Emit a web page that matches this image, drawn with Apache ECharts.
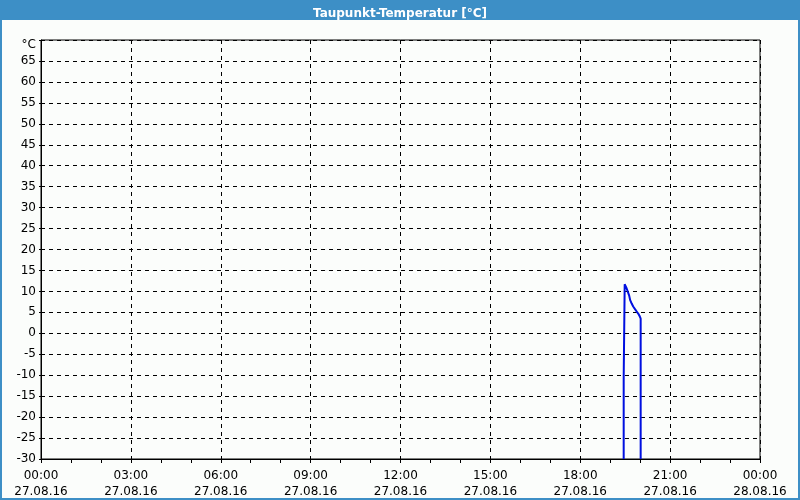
<!DOCTYPE html>
<html>
<head>
<meta charset="utf-8">
<script src="https://cdn.jsdelivr.net/npm/echarts@6/dist/echarts.min.js"></script>
<style>
html,body{margin:0;padding:0;background:#fbfdfb;}
#c{width:800px;height:500px;}
</style>
</head>
<body>
<div id="c"></div>
<script>
var chartTitle = 'Taupunkt-Temperatur [°C]';
var times = ['19:27','19:27','19:29','19:31','19:33','19:35','19:38','19:40','19:43','19:46','19:50','19:53','19:56','19:59','20:01','20:01'];
var dewPoint = [-30, -10.5, 11.7, 11.4, 10.7, 10.0, 9.0, 7.9, 7.1, 6.4, 5.7, 5.2, 4.7, 4.1, 3.5, -30];
var xTickTimes = ['00:00','03:00','06:00','09:00','12:00','15:00','18:00','21:00','00:00'];
var xTickDates = ['27.08.16','27.08.16','27.08.16','27.08.16','27.08.16','27.08.16','27.08.16','27.08.16','28.08.16'];
var yUnit = '°C';

function toMin(s){var p=s.split(':');return (+p[0])*60+(+p[1]);}
var seriesData = times.map(function(t,i){return [toMin(t), dewPoint[i]];});

var chart = echarts.init(document.getElementById('c'), null, {renderer:'canvas'});
var font = 'Tahoma, "DejaVu Sans", sans-serif';
chart.setOption({
  animation:false,
  backgroundColor:'#fbfdfb',
  title:{
    text:chartTitle, left:'center', top:3,
    textStyle:{color:'#ffffff', fontSize:12, fontWeight:'bold', fontFamily:font}
  },
  graphic:[
    {type:'rect', shape:{x:0,y:0,width:800,height:20}, style:{fill:'#3d8fc6'}, z:-1},
    {type:'rect', shape:{x:1,y:1,width:798,height:498}, style:{fill:'none', stroke:'#3d8fc6', lineWidth:2}, z:-1}
  ],
  grid:{left:41, right:40, top:40, bottom:40, show:true, borderColor:'#000', borderWidth:1, backgroundColor:'transparent'},
  xAxis:{
    type:'value', min:0, max:1440, interval:180,
    axisLine:{show:true, onZero:false, lineStyle:{color:'#000', width:1}},
    axisTick:{show:true, length:4, inside:false, lineStyle:{color:'#000'}},
    minorTick:{show:true, splitNumber:3, length:4, lineStyle:{color:'#000'}},
    splitLine:{show:true, lineStyle:{color:'#000', type:[4,4], width:1}},
    axisLabel:{
      color:'#000', fontSize:12, fontFamily:font, lineHeight:16, margin:9,
      formatter:function(v){var i=Math.round(v/180);return xTickTimes[i]+'\n'+xTickDates[i];}
    }
  },
  yAxis:{
    type:'value', min:-30, max:70, interval:5,
    axisLine:{show:true, onZero:false, lineStyle:{color:'#000', width:1}},
    axisTick:{show:true, length:2, lineStyle:{color:'#000'}},
    splitLine:{show:true, lineStyle:{color:'#000', type:[4,4], width:1}},
    axisLabel:{
      color:'#000', fontSize:12, fontFamily:font, margin:5,
      formatter:function(v){return v===70?'{u|'+yUnit+'}':String(v);},
      rich:{u:{fontSize:12, fontFamily:font, color:'#000', padding:[10,0,0,0]}}
    }
  },
  series:[{
    type:'line', data:seriesData, showSymbol:false, symbol:'none',
    lineStyle:{color:'#0010e0', width:2}, clip:true
  }]
});
</script>
</body>
</html>
